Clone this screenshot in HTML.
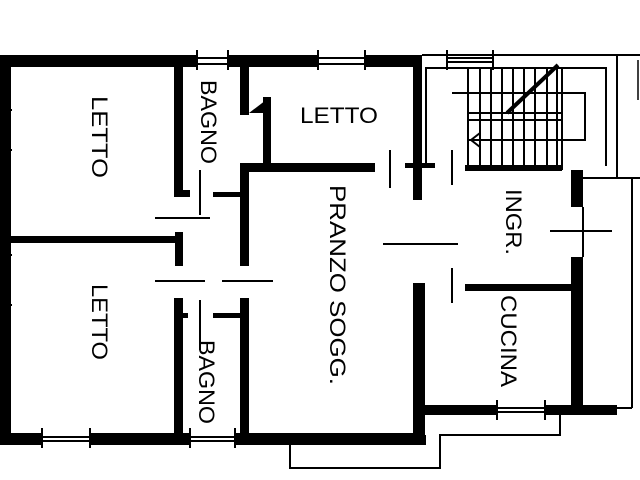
<!DOCTYPE html>
<html><head><style>body{margin:0;background:#fff}svg{display:block}</style></head><body>
<svg width="640" height="480" viewBox="0 0 640 480" xmlns="http://www.w3.org/2000/svg">
<g fill="#000">
<rect x="0" y="55" width="197" height="12"/>
<rect x="228" y="55" width="90" height="12"/>
<rect x="365" y="55" width="57" height="12"/>
<rect x="0" y="55" width="11" height="390"/>
<rect x="0" y="433" width="42" height="12"/>
<rect x="90" y="433" width="100" height="12"/>
<rect x="235" y="433" width="190" height="12"/>
<rect x="174" y="60" width="9" height="137"/>
<rect x="174" y="190" width="16" height="7"/>
<rect x="10" y="236" width="170" height="7"/>
<rect x="175" y="232" width="8" height="34"/>
<rect x="240" y="60" width="9" height="55"/>
<rect x="263" y="97" width="8" height="68"/>
<polygon points="249,113 270,97 270,113"/>
<rect x="241" y="163" width="134" height="9"/>
<rect x="240" y="163" width="9" height="103"/>
<rect x="213" y="192" width="32" height="5"/>
<rect x="174" y="298" width="9" height="140"/>
<rect x="174" y="313" width="14" height="5"/>
<rect x="240" y="298" width="9" height="140"/>
<rect x="213" y="313" width="32" height="5"/>
<rect x="413" y="57" width="9" height="143"/>
<rect x="405" y="163" width="30" height="5"/>
<rect x="465" y="165" width="97" height="6"/>
<rect x="571" y="170" width="12" height="37"/>
<rect x="571" y="257" width="12" height="153"/>
<rect x="465" y="284" width="110" height="7"/>
<rect x="413" y="283" width="12" height="162"/>
<rect x="425" y="405" width="72" height="10"/>
<rect x="545" y="405" width="72" height="10"/>
</g>
<g stroke="#000" fill="none" stroke-width="2">
<path d="M0 110h12M0 150h12M4 110v40M8 110v40M0 255h12M0 305h12M4 255v50M8 255v50"/>
<path d="M197 58h31M197 64h31M197 50v20M228 50v20"/>
<path d="M318 58h47M318 64h47M318 50v20M365 50v20"/>
<path d="M42 437h48M42 441h48M42 428v20M90 428v20"/>
<path d="M190 437h45M190 441h45M190 428v20M235 428v20"/>
<path d="M497 408h48M497 412h48M497 400v20M545 400v20"/>
<path d="M422 55h218M447 58h46M447 62h46M447 50v20M493 50v20"/>
<path d="M155 218h55M200 170v45M155 281h50M222 281h51M200 300v50M390 150v38M452 150v35M383 244h75M452 268v35M550 231h62M583 207v50"/>
<path d="M426 166V68h180v98M617 55v123M617 178h23M632 178v230M583 178h49M617 408h15"/>
<path d="M468 68v102M480 68v100M491 68v100M502 68v100M513 68v100M524 68v100M535 68v100M547 68v100M557 68v100M562 68v102M452 93h133v47h-117M468 113h94M468 120h94"/>
<path d="M507 113L558 65" stroke-width="4"/>
<path d="M480 133l-9 7 9 7"/>
<path d="M290 445v23h150v-33h120v-20M425 445v-10"/>
<path d="M638 60v40" stroke-width="1.5"/>
</g>
<g font-family="Liberation Sans, sans-serif" font-size="22" fill="#000">
<text x="339" y="123" text-anchor="middle" textLength="78" lengthAdjust="spacingAndGlyphs">LETTO</text>
<text transform="translate(92,137) rotate(90)" text-anchor="middle" textLength="82" lengthAdjust="spacingAndGlyphs">LETTO</text>
<text transform="translate(92,322) rotate(90)" text-anchor="middle" textLength="76" lengthAdjust="spacingAndGlyphs">LETTO</text>
<text transform="translate(201,122) rotate(90)" text-anchor="middle" textLength="84" lengthAdjust="spacingAndGlyphs">BAGNO</text>
<text transform="translate(199,382) rotate(90)" text-anchor="middle" textLength="84" lengthAdjust="spacingAndGlyphs">BAGNO</text>
<text transform="translate(330,285) rotate(90)" text-anchor="middle" textLength="200" lengthAdjust="spacingAndGlyphs">PRANZO SOGG.</text>
<text transform="translate(506,222) rotate(90)" text-anchor="middle" textLength="66" lengthAdjust="spacingAndGlyphs">INGR.</text>
<text transform="translate(501,341) rotate(90)" text-anchor="middle" textLength="92" lengthAdjust="spacingAndGlyphs">CUCINA</text>
</g>
</svg>
</body></html>
